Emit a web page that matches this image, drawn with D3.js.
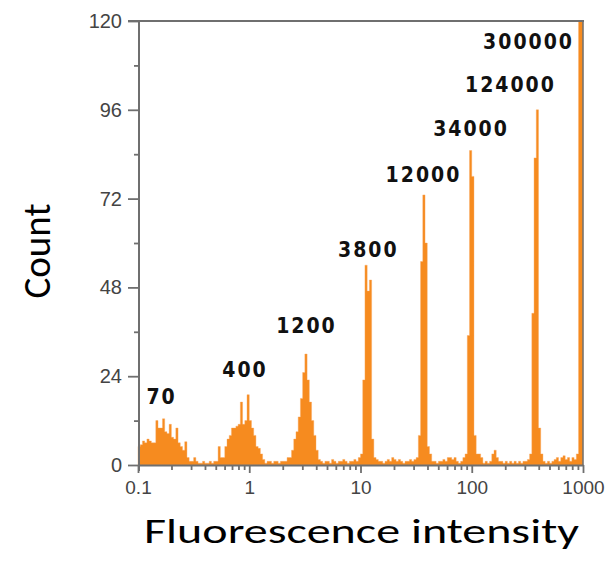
<!DOCTYPE html>
<html><head><meta charset="utf-8">
<script src="https://cdn.jsdelivr.net/npm/d3@7"></script>
<style>html,body{margin:0;padding:0;background:#fff}svg{display:block}</style>
</head><body>
<svg id="chart" width="616" height="573"></svg>
<script>
// ---- data ----
const binStart = 0.1;          // lower edge of first histogram bin
const binsPerDecade = 50;      // log-spaced channels
const counts = [
  5, 5.5, 6.5, 6, 7, 6.5, 6, 6, 12, 10,
  10, 12.5, 9, 8.5, 11, 7.5, 7, 10, 6, 5,
  4, 6.3, 2, 1, 1, 2, 1, 0.5, 0.5, 1,
  0.5, 0.5, 1, 0.5, 1, 1, 5, 2, 2, 5,
  7, 8, 10, 10, 10.5, 11, 17, 11, 12, 19,
  12, 10, 8, 5, 4.5, 3, 1.5, 0.5, 1, 1,
  0.5, 1, 1, 0.5, 1, 1, 1, 2, 2, 4,
  7, 9, 13, 18, 25, 30, 23, 17, 12, 8,
  4, 1.5, 1, 0.5, 1, 1, 0.5, 1.5, 1, 0.5,
  1, 1, 1.5, 1, 0.5, 1, 1, 1.5, 1, 2,
  3, 23, 54, 47, 50, 7, 2, 1.5, 1, 1,
  0.5, 1, 1.5, 1, 2, 1.5, 1, 1.5, 1, 0.5,
  1, 1, 1.5, 1, 1.5, 2, 8, 55, 73, 60,
  5, 3, 1, 1, 0.5, 1, 1, 1.5, 1, 2,
  2, 1.5, 2, 1, 0.5, 1, 2, 3, 35, 85,
  78, 8, 3, 3, 2, 0.5, 1, 0.5, 1, 3,
  4, 2, 1, 1, 0.5, 1, 0.5, 1, 0.5, 1,
  0.5, 1, 0.5, 1, 1, 1.5, 3, 41, 83, 96,
  10, 3, 1, 0.5, 1, 0.5, 1, 1.5, 2, 1,
  2, 2.5, 1.5, 2, 1, 2, 1.5, 3, 130, 130
];
const yTickValues = [0, 24, 48, 72, 96, 120];
const yMinorValues = [12, 36, 60, 84, 108];
const xTickValues = [0.1, 1, 10, 100, 1000];
const xTickLabels = ["0.1", "1", "10", "100", "1000"];
const xMinorValues = [0.2,0.3,0.4,0.5,0.6,0.7,0.8,0.9, 2,3,4,5,6,7,8,9, 20,30,40,50,60,70,80,90, 200,300,400,500,600,700,800,900];
const peakLabels = ["70", "400", "1200", "3800", "12000", "34000", "124000", "300000"];
const labelIntensity = [0.158, 0.888, 3.17, 11.4, 35.7, 95.5, 216, 314];
const labelCount = [16.5, 23.8, 35.7, 56.2, 76.5, 88.9, 100.8, 112.4];
const yTitle = "Count";
const xTitle = "Fluorescence intensity";

// ---- drawing ----
const svg = d3.select("#chart");
const x = d3.scaleLog().domain([0.1, 1000]).range([138, 583]);
const y = d3.scaleLinear().domain([0, 120]).range([465, 21]).clamp(true);

const bins = counts.map((c, i) => ({lo: binStart * Math.pow(10, i / binsPerDecade), c}));
bins.push({lo: 1000, c: counts[counts.length - 1]});
const area = d3.area()
  .x(d => x(d.lo)).y0(y(0)).y1(d => y(d.c))
  .curve(d3.curveStepAfter);
svg.append("path").datum(bins).attr("d", area)
  .attr("fill", "#F68B1F").attr("stroke", "#F9A65A").attr("stroke-width", 0.4);

const axisColor = "#6f6f6f";
const tickFont = "'Liberation Sans', Arial, sans-serif";

// frame (top and right)
svg.append("line").attr("x1", 128).attr("x2", x(1000) + 1).attr("y1", y(120)).attr("y2", y(120))
  .attr("stroke", axisColor).attr("stroke-width", 2);
svg.append("line").attr("x1", x(1000)).attr("x2", x(1000)).attr("y1", y(120)).attr("y2", y(0))
  .attr("stroke", axisColor).attr("stroke-width", 1.5);

// y axis
const gy = svg.append("g").attr("transform", "translate(139,0)")
  .call(d3.axisLeft(y).tickValues(yTickValues).tickSize(11).tickSizeOuter(0).tickPadding(6));
const gyMinor = svg.append("g").attr("transform", "translate(139,0)")
  .call(d3.axisLeft(y).tickValues(yMinorValues).tickSize(5).tickSizeOuter(0).tickFormat(""));
gyMinor.select(".domain").remove();

// x axis
const gx = svg.append("g").attr("transform", "translate(0,465)")
  .call(d3.axisBottom(x).tickValues(xTickValues).tickFormat((d, i) => xTickLabels[i])
    .tickSize(8).tickSizeOuter(0).tickPadding(8));
const gxMinor = svg.append("g").attr("transform", "translate(0,465)")
  .call(d3.axisBottom(x).tickValues(xMinorValues).tickSize(5).tickSizeOuter(0).tickFormat(""));
gxMinor.select(".domain").remove();

svg.selectAll(".domain").attr("stroke", axisColor).attr("stroke-width", 2);
svg.selectAll(".tick line").attr("stroke", axisColor).attr("stroke-width", 1.8);
gy.selectAll(".tick text").attr("font-family", tickFont).attr("font-size", 20).attr("fill", "#444");
gx.selectAll(".tick text").attr("font-family", tickFont).attr("font-size", 19).attr("fill", "#444");
gy.select(".domain").attr("d", `M0,${y(120)}V${y(0) + 6}`);

// peak labels
svg.append("g").selectAll("text").data(peakLabels).join("text")
  .attr("x", (d, i) => x(labelIntensity[i]) + 1.5)
  .attr("y", (d, i) => y(labelCount[i]))
  .attr("text-anchor", "middle")
  .attr("font-family", "'DejaVu Sans Condensed', 'DejaVu Sans', sans-serif")
  .attr("font-weight", "bold").attr("font-size", 21)
  .attr("letter-spacing", 2)
  .attr("fill", "#111")
  .text(d => d);

// titles
svg.append("text").attr("transform", "translate(50,251) rotate(-90)")
  .attr("text-anchor", "middle")
  .attr("font-family", "Calibri, Carlito, 'Open Sans', sans-serif").attr("font-size", 39)
  .attr("fill", "#000").text(yTitle);
svg.append("text").attr("x", 361.5).attr("y", 543)
  .attr("text-anchor", "middle")
  .attr("font-family", "Calibri, Carlito, 'Open Sans', sans-serif").attr("font-size", 35)
  .attr("textLength", 435).attr("lengthAdjust", "spacingAndGlyphs")
  .attr("fill", "#000").text(xTitle);
</script>
</body></html>
